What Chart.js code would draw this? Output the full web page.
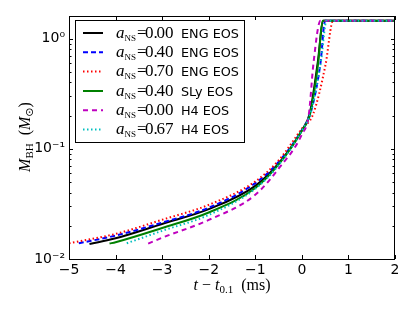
<!DOCTYPE html>
<html>
<head>
<meta charset="utf-8">
<script src="https://cdn.jsdelivr.net/npm/chart.js@4.4.0/dist/chart.umd.min.js"></script>
<style>
  html, body { margin: 0; padding: 0; background: #fff; }
  #wrap { width: 415px; height: 312px; }
</style>
</head>
<body>
<div id="wrap"><canvas id="chart" width="415" height="312"></canvas></div>
<script>
// Valores: t - t0.1 (ms) e M_BH (M_sol)
const spins = ['0.00', '0.40', '0.70', '0.40', '0.00', '0.67'];
const eosNames = ['ENG EOS', 'ENG EOS', 'ENG EOS', 'SLy EOS', 'H4 EOS', 'H4 EOS'];

const tEng00 = [-4.56, -4, -3, -2, -1, -0.5, 0, 0.17, 0.34, 0.46, 2];
const mEng00 = [0.0137, 0.0154, 0.0208, 0.0283, 0.0461, 0.0735, 0.147, 0.21, 0.60, 1.45, 1.45];

const tEng40 = [-4.79, -4, -3, -2, -1, -0.5, 0, 0.2, 0.4, 0.5, 2];
const mEng40 = [0.0139, 0.0163, 0.0214, 0.0292, 0.0488, 0.076, 0.148, 0.22, 0.60, 1.45, 1.45];

const tEng70 = [-5, -4, -3, -2, -1, -0.5, 0, 0.24, 0.51, 0.67, 2];
const mEng70 = [0.0139, 0.0169, 0.0227, 0.031, 0.0505, 0.0783, 0.152, 0.205, 0.583, 1.45, 1.45];

const tSly40 = [-4.13, -4, -3, -2, -1, -0.5, 0, 0.18, 0.35, 0.445, 2];
const mSly40 = [0.0138, 0.0142, 0.0191, 0.0264, 0.044, 0.072, 0.146, 0.21, 0.60, 1.45, 1.45];

const tH400 = [-3.3, -3, -2, -1, -0.5, 0, 0.15, 0.25, 0.40, 2];
const mH400 = [0.0138, 0.0156, 0.0226, 0.0382, 0.066, 0.135, 0.205, 0.60, 1.45, 1.45];

const tH467 = [-3.76, -3, -2, -1, -0.5, 0, 0.2, 0.41, 0.53, 2];
const mH467 = [0.0139, 0.018, 0.0251, 0.0433, 0.071, 0.146, 0.22, 0.62, 1.45, 1.45];

// Ticks dos eixos
const xTicks = [-5, -4, -3, -2, -1, 0, 1, 2];
const yMajorTicks = [0.01, 0.1, 1];
const yMajorLabels = ['10\u207B\u00B2', '10\u207B\u00B9', '10\u2070'];
const yMinorTicks = [0.02, 0.03, 0.04, 0.05, 0.06, 0.07, 0.08, 0.09,
                     0.2, 0.3, 0.4, 0.5, 0.6, 0.7, 0.8, 0.9];

const serif = '"Liberation Serif", "DejaVu Serif", serif';
const sans = '"DejaVu Sans", sans-serif';

// Estilos de cada curva
const styles = [
    { color: '#000000', dash: [] },
    { color: '#0000ff', dash: [5, 3] },
    { color: '#ff0000', dash: [1.5, 2.5] },
    { color: '#008000', dash: [] },
    { color: '#bf00bf', dash: [5, 4] },
    { color: '#00bfbf', dash: [1.5, 2.5] }
];

function toPoints(t, m) {
    return t.map((v, i) => ({ x: v, y: m[i] }));
}

const seriesT = [tEng00, tEng40, tEng70, tSly40, tH400, tH467];
const seriesM = [mEng00, mEng40, mEng70, mSly40, mH400, mH467];

const datasets = seriesT.map((t, i) => ({
    label: 'a_NS = ' + spins[i] + ' ' + eosNames[i],
    data: toPoints(t, seriesM[i]),
    borderColor: styles[i].color,
    borderDash: styles[i].dash,
    borderWidth: 2,
    pointRadius: 0,
    fill: false,
    cubicInterpolationMode: 'monotone',
    order: 5 - i
}));

// Desenha texto com partes em fontes diferentes (sub/sobrescritos)
function drawRuns(ctx, parts, x, y, align) {
    let total = 0;
    parts.forEach(p => { ctx.font = p.f; total += ctx.measureText(p.t).width; });
    let cx = align === 'center' ? x - total / 2 : x;
    parts.forEach(p => {
        ctx.font = p.f;
        ctx.fillText(p.t, cx, y + (p.dy || 0));
        cx += ctx.measureText(p.t).width;
    });
}

const decorPlugin = {
    id: 'decor',
    afterDraw(chart) {
        const ctx = chart.ctx;
        const area = chart.chartArea;
        const xs = chart.scales.x;
        const ys = chart.scales.y;
        ctx.save();
        ctx.strokeStyle = '#000';
        ctx.lineWidth = 1;
        ctx.setLineDash([]);

        // ticks para dentro, nos quatro lados
        ctx.beginPath();
        xTicks.forEach(v => {
            const px = Math.round(xs.getPixelForValue(v)) + 0.5;
            ctx.moveTo(px, area.bottom); ctx.lineTo(px, area.bottom - 4);
            ctx.moveTo(px, area.top); ctx.lineTo(px, area.top + 4);
        });
        yMajorTicks.forEach(v => {
            const py = Math.round(ys.getPixelForValue(v)) + 0.5;
            ctx.moveTo(area.left, py); ctx.lineTo(area.left + 4, py);
            ctx.moveTo(area.right, py); ctx.lineTo(area.right - 4, py);
        });
        yMinorTicks.forEach(v => {
            const py = Math.round(ys.getPixelForValue(v)) + 0.5;
            ctx.moveTo(area.left, py); ctx.lineTo(area.left + 2.5, py);
            ctx.moveTo(area.right, py); ctx.lineTo(area.right - 2.5, py);
        });
        ctx.stroke();

        // moldura
        ctx.strokeRect(Math.round(area.left) + 0.5, Math.round(area.top) + 0.5,
                       Math.round(area.right - area.left) - 1, Math.round(area.bottom - area.top));

        // legenda
        const lx = 75.5, ly = 20.5, lw = 169, lh = 122;
        ctx.fillStyle = '#fff';
        ctx.fillRect(lx, ly, lw, lh);
        ctx.strokeStyle = '#000';
        ctx.strokeRect(lx, ly, lw, lh);
        const rowY = [33, 52.3, 71.5, 91, 110.2, 129.6];
        ctx.fillStyle = '#000';
        ctx.textAlign = 'left';
        ctx.textBaseline = 'alphabetic';
        datasets.forEach((ds, i) => {
            const y = rowY[i];
            ctx.beginPath();
            ctx.strokeStyle = styles[i].color;
            ctx.setLineDash(styles[i].dash);
            ctx.lineWidth = 2;
            ctx.moveTo(83, y); ctx.lineTo(103, y);
            ctx.stroke();
            ctx.setLineDash([]);
            ctx.fillStyle = '#000';
            const b = y + 4.5;
            drawRuns(ctx, [
                { t: 'a', f: 'italic 17px ' + serif },
                { t: 'NS', f: '9px ' + serif, dy: 3 }
            ], 116, b, 'left');
            ctx.font = '17px ' + serif;
            ctx.fillText('=', 137, b);
            ctx.fillText(spins[i].slice(0, 2), 145, b);
            ctx.fillText(spins[i].slice(2), 156.5, b);
            ctx.font = '12.8px ' + sans;
            ctx.fillText(eosNames[i], 181, b);
        });

        // título do eixo x
        ctx.fillStyle = '#000';
        drawRuns(ctx, [
            { t: 't', f: 'italic 16px ' + serif },
            { t: ' \u2212 ', f: '16px ' + serif },
            { t: 't', f: 'italic 16px ' + serif },
            { t: '0.1', f: '11px ' + serif, dy: 3 },
            { t: '  (ms)', f: '16px ' + serif }
        ], 232, 290, 'center');

        // título do eixo y
        ctx.translate(30, 137);
        ctx.rotate(-Math.PI / 2);
        drawRuns(ctx, [
            { t: 'M', f: 'italic 16px ' + serif },
            { t: 'BH', f: '11px ' + serif, dy: 3 },
            { t: '  (', f: '16px ' + serif },
            { t: 'M', f: 'italic 16px ' + serif },
            { t: '\u2299', f: '11px "DejaVu Sans", sans-serif', dy: 3 },
            { t: ')', f: '16px ' + serif }
        ], 0, 0, 'center');
        ctx.restore();
    }
};

const ctx = document.getElementById('chart').getContext('2d');
const chart = new Chart(ctx, {
    type: 'line',
    data: { datasets: datasets },
    options: {
        responsive: false,
        devicePixelRatio: 1,
        animation: false,
        layout: { padding: { left: 0, right: 20, top: 16, bottom: 0 } },
        plugins: {
            legend: { display: false },
            tooltip: { enabled: false }
        },
        scales: {
            x: {
                type: 'linear',
                min: -5,
                max: 2,
                afterBuildTicks: scale => { scale.ticks = xTicks.map(v => ({ value: v })); },
                afterFit: scale => { scale.height = 53; },
                grid: { display: false, drawTicks: false },
                border: { display: false },
                ticks: {
                    autoSkip: false,
                    maxRotation: 0,
                    padding: 3,
                    color: '#000',
                    font: { family: 'DejaVu Sans', size: 14 },
                    callback: v => String(v).replace('-', '\u2212')
                }
            },
            y: {
                type: 'logarithmic',
                min: 0.01,
                max: 1.6,
                afterBuildTicks: scale => { scale.ticks = yMajorTicks.map(v => ({ value: v })); },
                afterFit: scale => { scale.width = 69; },
                grid: { display: false, drawTicks: false },
                border: { display: false },
                ticks: {
                    autoSkip: false,
                    padding: 4,
                    color: '#000',
                    font: { family: 'DejaVu Sans', size: 14 },
                    callback: v => {
                        const k = yMajorTicks.findIndex(m => Math.abs(m - v) < 1e-9);
                        return k >= 0 ? yMajorLabels[k] : '';
                    }
                }
            }
        }
    },
    plugins: [decorPlugin]
});
</script>
</body>
</html>
